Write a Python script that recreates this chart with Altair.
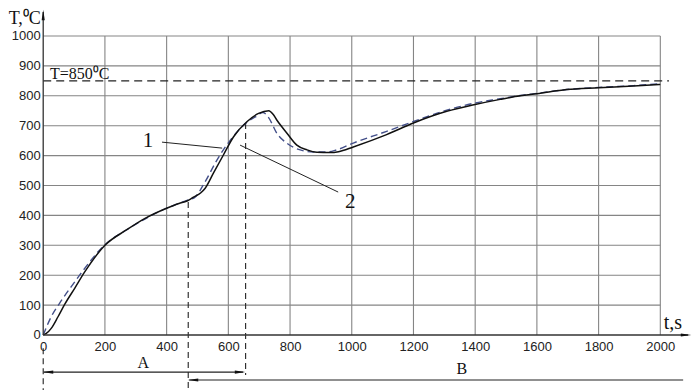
import altair as alt
import pandas as pd

# ---------------- data ----------------
# curve 1 (solid)
t1 = [0, 10, 26, 48, 70, 102, 134, 200, 271, 330, 400, 440, 466, 487, 510, 525,
      552, 584, 617, 660, 698, 731, 745, 757, 790, 822, 855, 887, 930, 957, 1005,
      1113, 1200, 1308, 1396, 1481, 1546, 1600, 1697, 1800, 1913, 2000]
T1 = [0, 5, 22, 61, 103, 156, 210, 300, 352, 390, 424, 440, 448, 461, 475, 491,
      542, 602, 663, 713, 741, 750, 738, 719, 675, 635, 619, 611, 610, 613, 629,
      670, 709, 748, 770, 788, 800, 807, 821, 827, 833, 838]
# curve 2 (dashed)
t2 = [0, 26, 53, 91, 118, 200, 271, 400, 440, 466, 493, 525, 563, 606, 655, 687,
      712, 730, 757, 790, 833, 876, 920, 951, 1005, 1113, 1200, 1308, 1396, 1481,
      1546, 1600, 1697, 1800, 1913, 2000]
T2 = [0, 61, 106, 162, 200, 302, 352, 424, 440, 450, 462, 513, 585, 651, 707, 729,
      744, 728, 675, 641, 619, 612, 612, 619, 642, 681, 714, 752, 775, 790,
      801, 808, 821, 828, 834, 840]

x_ticks = [0, 200, 400, 600, 800, 1000, 1200, 1400, 1600, 1800, 2000]
y_ticks = [0, 100, 200, 300, 400, 500, 600, 700, 800, 900, 1000]
T_ref = 850
ref_label = "T=850⁰C"
t_stage = [470, 656]          # boundaries of stages A / B
T_stage = [445, 709]          # curve value at those boundaries
stage_labels = ["A", "B"]
curve_labels = ["1", "2"]

# ---------------- layout helpers ----------------
W, H = 684, 382
xs = alt.Scale(domain=[-114.1, 2102.7], nice=False, zero=False)
ys = alt.Scale(domain=[-184, 1093.6], nice=False, zero=False)

xaxis = alt.Axis(values=x_ticks, orient="bottom", offset=-55, domain=False, ticks=False,
                 grid=False, labelPadding=5, labelFont="Liberation Sans", labelFontSize=13,
                 labelColor="#222", title=None, labelFlush=False, labelOverlap=False,
                 format="d")
yaxis = alt.Axis(values=y_ticks, orient="left", offset=-35.2, domain=False, ticks=False,
                 grid=False, labelPadding=3, labelFont="Liberation Sans", labelFontSize=13,
                 labelColor="#222", title=None, labelFlush=False, labelOverlap=False,
                 format="d")


def X(f):
    return alt.X(f, type="quantitative", scale=xs, axis=xaxis)


def Y(f):
    return alt.Y(f, type="quantitative", scale=ys, axis=yaxis)


SERIF = "Liberation Serif"

# grid
gv = pd.DataFrame({"x": x_ticks[1:], "y0": [0] * 10, "y1": [1000] * 10})
gh = pd.DataFrame({"y": y_ticks[1:], "x0": [0] * 10, "x1": [2000] * 10})
grid_v = alt.Chart(gv).mark_rule(color="#858585", strokeWidth=1.1).encode(
    x=X("x"), y=Y("y0"), y2="y1")
grid_h = alt.Chart(gh).mark_rule(color="#858585", strokeWidth=1.1).encode(
    y=Y("y"), x=X("x0"), x2="x1")

# axis lines with arrows
ax = pd.DataFrame({"x": [0, 0], "x2": [0, 2090], "y": [0, 0], "y2": [1080, 0]})
axes = alt.Chart(ax).mark_rule(color="#333", strokeWidth=1.3).encode(
    x=X("x"), x2="x2", y=Y("y"), y2="y2")

heads = pd.DataFrame({
    "x": [0, 2083.5, 15.6, 638, 485.5],
    "y": [1070, 0, -124, -124, -150.5],
    "s": ["up", "right", "left", "right", "left"],
})
shape_map = {
    "up": "M0,-1L0.3,1L-0.3,1Z",
    "right": "M-1,-0.3L1,0L-1,0.3Z",
    "left": "M1,-0.3L-1,0L1,0.3Z",
}
head_layers = []
for key, path in shape_map.items():
    head_layers.append(
        alt.Chart(heads[heads.s == key]).mark_point(
            shape=path, filled=True, size=110, color="#111", opacity=1, strokeWidth=0
        ).encode(x=X("x"), y=Y("y"))
    )

# reference line
ref = pd.DataFrame({"x": [0], "x2": [2028], "y": [T_ref]})
ref_line = alt.Chart(ref).mark_rule(color="#222", strokeWidth=1.2, strokeDash=[8, 5]).encode(
    x=X("x"), x2="x2", y=Y("y"))
ref_text = alt.Chart(pd.DataFrame({"x": [22], "y": [872], "t": [ref_label]})).mark_text(
    font=SERIF, fontSize=16, align="left", baseline="middle", color="#111"
).encode(x=X("x"), y=Y("y"), text="t")

# curves
c1 = alt.Chart(pd.DataFrame({"t": t1, "T": T1})).mark_line(
    color="#111", strokeWidth=1.5, interpolate="monotone").encode(x=X("t"), y=Y("T"))
c2 = alt.Chart(pd.DataFrame({"t": t2, "T": T2})).mark_line(
    color="#44508a", strokeWidth=1.4, strokeDash=[7, 4], interpolate="monotone").encode(
    x=X("t"), y=Y("T"))

# stage boundary dashed lines
vd = pd.DataFrame({"x": [0, t_stage[0], t_stage[1]],
                   "y": [-44, T_stage[0], T_stage[1]],
                   "y2": [-184, -184, -134]})
vdash = alt.Chart(vd).mark_rule(color="#222", strokeWidth=1.1, strokeDash=[6, 4]).encode(
    x=X("x"), y=Y("y"), y2="y2")

# stage arrows
arr = pd.DataFrame({"x": [2, t_stage[0] + 3], "x2": [t_stage[1] - 8, 2074],
                    "y": [-124, -150.5]})
arrows = alt.Chart(arr).mark_rule(color="#222", strokeWidth=1.2).encode(
    x=X("x"), x2="x2", y=Y("y"))
stage_text = alt.Chart(pd.DataFrame({"x": [324, 1357], "y": [-94, -114], "t": stage_labels})).mark_text(
    font=SERIF, fontSize=16, align="center", baseline="middle", color="#111"
).encode(x=X("x"), y=Y("y"), text="t")

# curve labels with leaders
lead = pd.DataFrame({"x": [385, 638], "x2": [580, 956], "y": [645, 635], "y2": [625, 478]})
leaders = alt.Chart(lead).mark_rule(color="#222", strokeWidth=1.0).encode(
    x=X("x"), x2="x2", y=Y("y"), y2="y2")
num_text = alt.Chart(pd.DataFrame({"x": [340, 995], "y": [648, 446], "t": curve_labels})).mark_text(
    font=SERIF, fontSize=21, align="center", baseline="middle", color="#111"
).encode(x=X("x"), y=Y("y"), text="t")

# axis titles
ytitle = alt.Chart(pd.DataFrame({"x": [-112], "y": [1058], "t": ["T,⁰C"]})).mark_text(
    font=SERIF, fontSize=18, align="left", baseline="middle", color="#111"
).encode(x=X("x"), y=Y("y"), text="t")
xtitle = alt.Chart(pd.DataFrame({"x": [2041], "y": [39], "t": ["t,s"]})).mark_text(
    font=SERIF, fontSize=20, align="center", baseline="middle", color="#111"
).encode(x=X("x"), y=Y("y"), text="t")

chart = alt.layer(
    grid_v, grid_h, ref_line, vdash, c2, c1, axes, arrows, leaders,
    *head_layers, ref_text, stage_text, num_text, ytitle, xtitle
).properties(
    width=W, height=H, padding=0, background="white",
    autosize=alt.AutoSizeParams(type="none")
).configure_view(stroke=None)

chart.save("out.html", embed_options={"renderer": "svg", "actions": False})
